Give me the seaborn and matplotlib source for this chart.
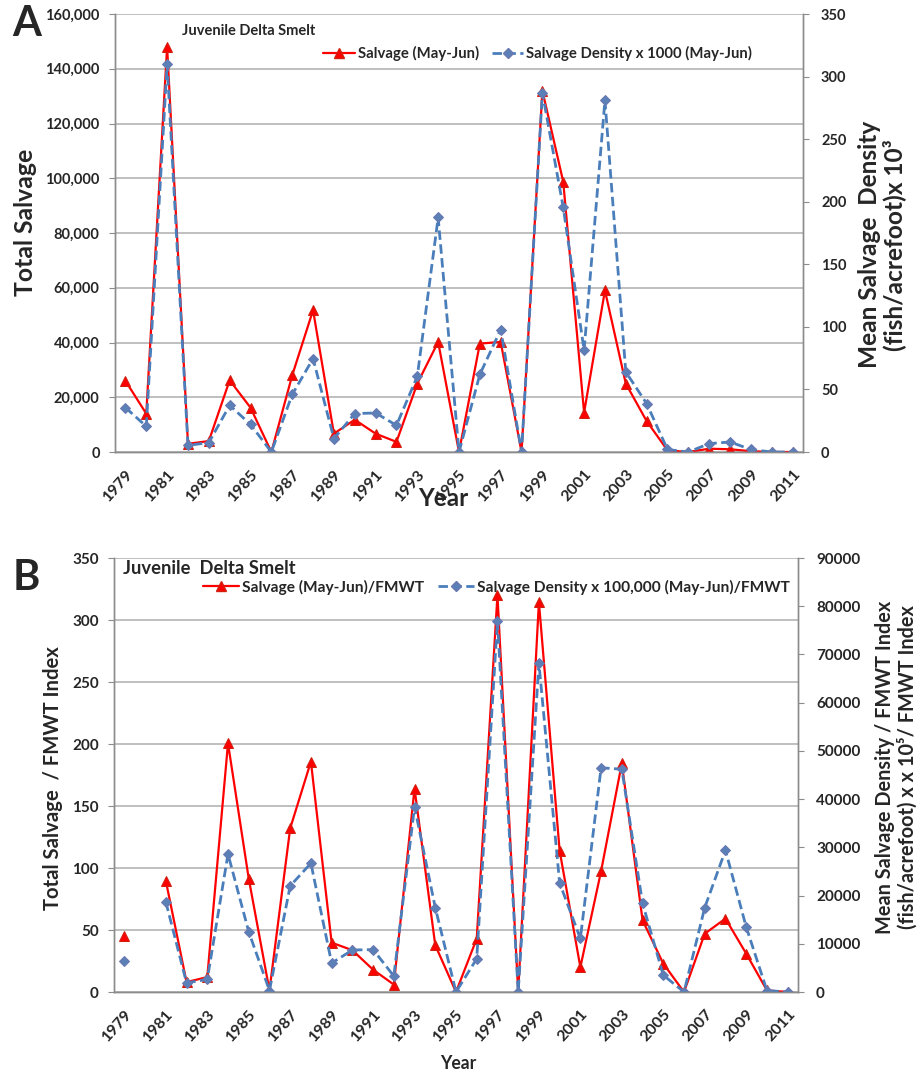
import numpy as np
import pandas as pd
import matplotlib
matplotlib.use("Agg")
import matplotlib.pyplot as plt
from matplotlib.ticker import FuncFormatter, MultipleLocator, FixedLocator
from matplotlib.lines import Line2D
import seaborn as sns

nan = np.nan

years = list(range(1979, 2012))

# Panel A: total May-Jun salvage and mean salvage density (x 1000)
salvage = [26000, 14000, 148000, 3000, 4000, 26200, 16200, 0, 28000, 51800,
           6700, 11800, 6700, 3700, 25000, 40200, 0, 39600, 40200, 0,
           132000, 98700, 14400, 59000, 25000, 11300, 600, 0, 1200, 1000,
           300, 0, 0]
density_x1000 = [35.5, 20.5, 310, 5.3, 7.5, 37.3, 22, 0, 46, 74.6,
                 10.7, 30.7, 31.2, 21.3, 60.5, 187.4, 0, 62, 97.8, 0,
                 287, 195.4, 81.3, 281, 64, 38.7, 2, 0, 6.7, 8,
                 2, 0, 0]

# Panel B: the same quantities scaled by the FMWT index (no index for 1980)
salvage_fmwt = [45.2, nan, 89.7, 8, 12, 200.6, 91.5, 1.3, 132, 185.8,
                39.8, 33.7, 18, 6, 164, 37.7, 0, 43, 320, 0,
                314.5, 113.9, 20, 97.5, 184.4, 57.9, 22.9, 0, 47, 59.2,
                31, 1.3, 0]
density_fmwt = [6400, nan, 18700, 1900, 2600, 28600, 12500, 300, 22000, 26700,
                6000, 8700, 8800, 3300, 38400, 17500, 0, 6900, 77000, 0,
                68200, 22600, 11100, 46500, 46200, 18400, 3500, 0, 17500, 29400,
                13500, 300, 0]

legend_a = ["Salvage (May-Jun)", "Salvage Density x 1000 (May-Jun)"]
legend_b = ["Salvage (May-Jun)/FMWT", "Salvage Density x 100,000 (May-Jun)/FMWT"]

sns.set_style("white")
plt.rcParams["font.family"] = ["Lato", "DejaVu Sans"]
plt.rcParams["font.weight"] = "bold"

RED = "#FF0000"
BLUE = "#4A7EBB"
DIAMOND = "#5B80B8"
GRID = "#B4B4B4"
SPINE = "#8C8C8C"

df = pd.DataFrame({
    "year": years,
    "salvage": salvage,
    "density": density_x1000,
    "salvage_fmwt": salvage_fmwt,
    "density_fmwt": density_fmwt,
})
# 1979 stands apart from the run that starts in 1981 in panel B
df["segment"] = [0 if y < 1980 else 1 for y in years]

fig = plt.figure(figsize=(9.23, 10.74), dpi=100)
W, H = 923, 1074


def axes_px(left, right, top, bottom):
    return fig.add_axes([left / W, 1 - bottom / H, (right - left) / W, (bottom - top) / H])


red_kw = dict(color=RED, marker="^", markersize=7, markerfacecolor=RED,
              markeredgecolor="#D02010", linewidth=1.6)
blue_kw = dict(color=BLUE, marker="D", markersize=5.5, markerfacecolor=DIAMOND,
               markeredgecolor="#6A78B0", linewidth=2.0, linestyle=(0, (3.4, 1.6)))


def style_axes(ax, ax2, ytick_fs, xtick_fs, left_pad):
    ax.set_xlim(1978.5, 2011.5)
    ax.xaxis.set_major_locator(FixedLocator(years))
    ax.set_xticklabels([str(y) if (y - 1979) % 2 == 0 else "" for y in years],
                       rotation=48, ha="right", rotation_mode="anchor",
                       fontsize=xtick_fs, fontweight="bold")
    ax.xaxis.set_minor_locator(FixedLocator([y - 0.5 for y in years] + [2011.5]))
    ax.tick_params(axis="x", which="major", length=0, pad=11)
    ax.tick_params(axis="x", which="minor", length=4, color=SPINE, direction="out")
    ax.tick_params(axis="y", length=4, color=SPINE, direction="out", pad=left_pad,
                   labelsize=ytick_fs)
    ax2.tick_params(axis="y", length=4, color=SPINE, direction="out", pad=9,
                    labelsize=ytick_fs)
    for lab in ax.get_yticklabels() + ax2.get_yticklabels():
        lab.set_fontweight("bold")
    ax.grid(axis="y", color=GRID, linewidth=1.2)
    ax.grid(axis="x", visible=False)
    ax2.grid(False)
    for a in (ax, ax2):
        a.spines["top"].set_visible(False)
        for s in ("left", "right", "bottom"):
            a.spines[s].set_color(SPINE)
            a.spines[s].set_linewidth(1.0)
    ax.set_axisbelow(True)


# ---------------- Panel A ----------------
axA = axes_px(115, 803, 14, 452)
axA2 = axA.twinx()
sns.lineplot(data=df, x="year", y="salvage", ax=axA, **red_kw)
sns.lineplot(data=df, x="year", y="density", ax=axA2, **blue_kw)
axA.set_ylim(0, 160000)
axA.yaxis.set_major_locator(MultipleLocator(20000))
axA.yaxis.set_major_formatter(FuncFormatter(lambda v, p: f"{int(v):,}"))
axA2.set_ylim(0, 350)
axA2.yaxis.set_major_locator(MultipleLocator(50))
style_axes(axA, axA2, 10.5, 11.5, 7)

axA.set_xlabel("Year", fontsize=17.5, fontweight="bold")
axA.xaxis.set_label_coords(0.477, -0.081)
axA.set_ylabel("Total Salvage", fontsize=17.8, fontweight="bold")
axA.yaxis.set_label_coords(-0.113, 0.525)
axA2.set_ylabel("Mean Salvage  Density\n(fish/acrefoot)x 10\u00b3",
                fontsize=17.6, fontweight="bold", rotation=90, linespacing=1.05)
axA2.yaxis.set_label_coords(1.080, 0.473)

axA.text(0.097, 0.961, "Juvenile Delta Smelt", transform=axA.transAxes,
         fontsize=10.5, fontweight="bold", va="center", ha="left")

handles_a = [Line2D([], [], **red_kw), Line2D([], [], **blue_kw)]
axA.legend(handles_a, legend_a, loc="center left", bbox_to_anchor=(0.303, 0.909),
           ncol=2, frameon=False, handlelength=2.1,
           handletextpad=0.2, columnspacing=0.9, borderpad=0, borderaxespad=0,
           prop={"weight": "bold", "size": 10.7})

# ---------------- Panel B ----------------
axB = axes_px(114, 798, 558, 992)
axB2 = axB.twinx()
sns.lineplot(data=df, x="year", y="salvage_fmwt", units="segment", estimator=None,
             ax=axB, **red_kw)
sns.lineplot(data=df, x="year", y="density_fmwt", units="segment", estimator=None,
             ax=axB2, **blue_kw)
axB.set_ylim(0, 350)
axB.yaxis.set_major_locator(MultipleLocator(50))
axB2.set_ylim(0, 90000)
axB2.yaxis.set_major_locator(MultipleLocator(10000))
axB2.yaxis.set_major_formatter(FuncFormatter(lambda v, p: f"{int(v)}"))
style_axes(axB, axB2, 11, 11.5, 7)

axB.set_xlabel("Year", fontsize=12.7, fontweight="bold")
axB.xaxis.set_label_coords(0.504, -0.145)
axB.set_ylabel("Total Salvage  / FMWT Index", fontsize=14.6, fontweight="bold")
axB.yaxis.set_label_coords(-0.074, 0.493)
axB2.set_ylabel("Mean Salvage Density / FMWT Index\n(fish/acrefoot) x x 10\u2075/ FMWT Index",
                fontsize=14.3, fontweight="bold", rotation=90, linespacing=1.15)
axB2.yaxis.set_label_coords(1.113, 0.518)

axB.text(0.013, 0.975, "Juvenile  Delta Smelt", transform=axB.transAxes,
         fontsize=13.2, fontweight="bold", va="center", ha="left")

handles_b = [Line2D([], [], **red_kw), Line2D([], [], **blue_kw)]
axB.legend(handles_b, legend_b, loc="center left", bbox_to_anchor=(0.130, 0.933),
           ncol=2, frameon=False, handlelength=2.3,
           handletextpad=0.2, columnspacing=0.9, borderpad=0, borderaxespad=0,
           prop={"weight": "bold", "size": 11.2})

# Panel letters
fig.text(27 / W, 1 - 24 / H, "A", fontsize=30, fontweight="bold", ha="center", va="center")
fig.text(26 / W, 1 - 578 / H, "B", fontsize=30, fontweight="bold", ha="center", va="center")

fig.savefig("out.png", dpi=100)
